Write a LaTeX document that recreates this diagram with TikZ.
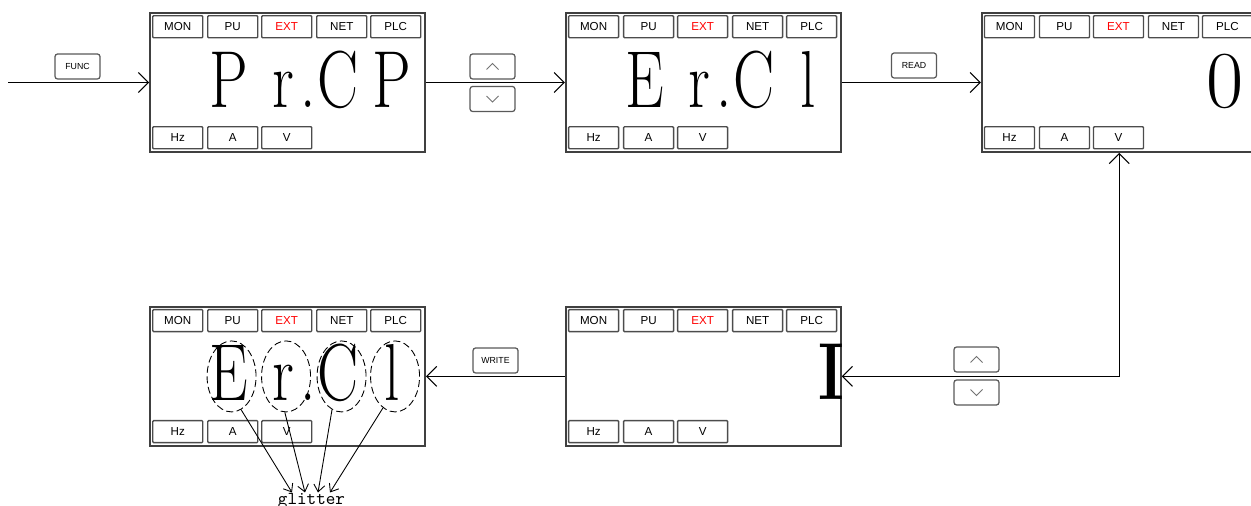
\documentclass[tikz,border=0pt]{standalone}
\usepackage{fontspec}
\setsansfont{Liberation Sans}
\newfontfamily\segfont[FakeStretch=0.76]{Latin Modern Roman}
\usetikzlibrary{shapes.geometric, arrows.meta, positioning, calc}

% one display panel with its lamps
\newcommand{\lcdpanel}[2]{%
  \node[panel, #2] (#1) {};
  \foreach \lab/\dx/\col in {MON/3/black, PU/58/black, EXT/112/red, NET/167/black, PLC/221/black}
    \node[lamp, text=\col] (#1-\lab) at ($(#1.north west)+(\dx,3)$) {\lab};
  \foreach \lab/\dx in {Hz/3, A/58, V/112}
    \node[lamp] (#1-\lab) at ($(#1.north west)+(\dx,114)$) {\lab};
}
% big characters of a panel
\newcommand{\lcdchars}[2]{%
  \foreach \ch/\dx [count=\k] in {#2}
    \node[seg] (#1-c\k) at ($(#1.north west)+(\dx,95)$) {\ch};
}

\begin{document}
\begin{tikzpicture}[
        x=0.02cm, y=-0.02cm,
        node distance=3.06cm and 2.78cm,
        panel/.style={draw=black!75, line width=1.1pt, minimum width=5.5cm, minimum height=2.78cm, inner sep=0pt},
        lamp/.style={draw=black!70, line width=0.8pt, rounded corners=0.5pt, minimum width=1cm, minimum height=0.44cm, inner sep=0pt, anchor=north west, font=\sffamily\fontsize{6.6}{8}\selectfont},
        seg/.style={anchor=base, inner sep=0pt, font=\segfont\fontsize{46}{48}\selectfont},
        key/.style={draw=black!65, line width=0.7pt, rounded corners=1.5pt, minimum width=0.9cm, minimum height=0.5cm, inner sep=0pt, fill=white, font=\sffamily\fontsize{5}{6}\selectfont},
        chev/.style={draw=black!55, line width=0.5pt},
        glow/.style={draw, ellipse, dash pattern=on 4pt off 2pt, line width=0.5pt, minimum width=0.98cm, minimum height=1.42cm, inner sep=0pt},
        link/.style={-{Straight Barb[length=0.2cm, width=0.4cm]}, line width=0.6pt},
        twoway/.style={{Straight Barb[length=0.2cm, width=0.4cm]}-{Straight Barb[length=0.2cm, width=0.4cm]}, line width=0.6pt},
        ptr/.style={-{Straight Barb[length=0.14cm, width=0.22cm]}, line width=0.5pt}
    ]
        \useasboundingbox (0,0) rectangle (1251,506);

        % Panels
        \lcdpanel{p1}{at={(287.5,82.5)}}
        \lcdpanel{p2}{right=of p1}
        \lcdpanel{p3}{right=of p2}
        \lcdpanel{p5}{below=of p2}
        \lcdpanel{p4}{left=of p5}

        % Display contents
        \lcdchars{p1}{P/80, r/134, ./159, C/189, P/243}
        \lcdchars{p2}{E/80, r/134, ./159, C/189, l/243}
        \lcdchars{p4}{E/80, r/134, ./159, C/189, l/243}
        \node[seg, font=\rmfamily\fontsize{46}{48}\selectfont] (p3-c1) at ($(p3.north west)+(244.5,95)$) {0};
        \node[seg, font=\segfont\bfseries\fontsize{46}{48}\selectfont] (p5-c1) at ($(p5.north west)+(266.5,94)$) {I};

        % Blinking digits
        \foreach \dx [count=\k] in {82.5, 137, 192.5, 246}
            \node[glow] (g\k) at ($(p4.north west)+(\dx,70.5)$) {};
        \node[anchor=base, inner sep=0pt, font=\ttfamily\fontsize{10.4}{12}\selectfont] (glitter) at (311.5,504) {glitter};

        % Links
        \coordinate (start) at (8,82.5);
        \draw[link] (start) -- (p1.west);
        \draw[link] (p1.east) -- (p2.west);
        \draw[link] (p2.east) -- (p3.west);
        \draw[twoway] (p3.south) |- (p5.east);
        \draw[link] (p5.west) -- (p4.east);

        \draw[ptr] (g1.-74) -- ($(glitter.north)+(-19.5,0)$);
        \draw[ptr] (g2.-92) -- ($(glitter.north)+(-6.5,0)$);
        \draw[ptr] (g3.-106) -- ($(glitter.north)+(6.5,0)$);
        \draw[ptr] (g4.-111) -- ($(glitter.north)+(18.5,0)$);

        % Keys
        \node[key] (func) at (77.5,66.5) {FUNC};
        \node[key] (up1) at (492.5,66.5) {};
        \node[key] (down1) at (492.5,99) {};
        \node[key] (read) at (914,65.5) {READ};
        \node[key] (write) at (495.5,360.5) {WRITE};
        \node[key] (up2) at (976.5,359.5) {};
        \node[key] (down2) at (976.5,392.5) {};

        \draw[chev] ($(up1)+(-6,3)$) -- ++(6,-6) -- ++(6,6);
        \draw[chev] ($(down1)+(-6,-3)$) -- ++(6,6) -- ++(6,-6);
        \draw[chev] ($(up2)+(-6,3)$) -- ++(6,-6) -- ++(6,6);
        \draw[chev] ($(down2)+(-6,-3)$) -- ++(6,6) -- ++(6,-6);

    \end{tikzpicture}
\end{document}
